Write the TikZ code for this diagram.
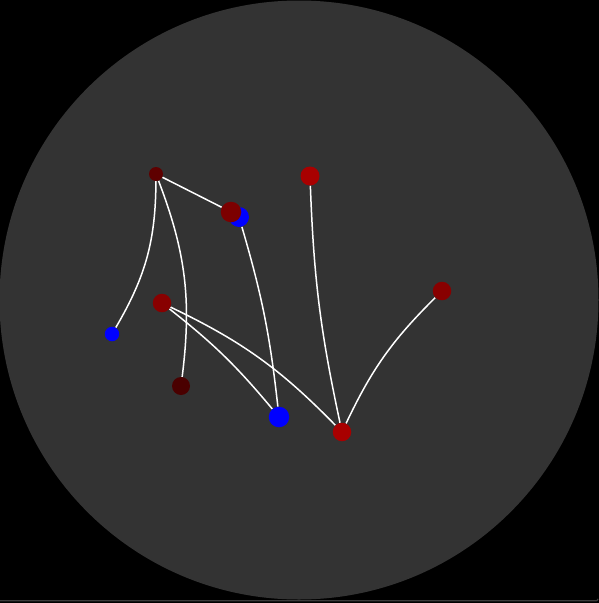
\documentclass[tikz,border=0pt]{standalone}
\usepackage{xcolor}
\usepackage{tikz}
\usetikzlibrary{backgrounds}

\definecolor{panel}{HTML}{333333}
\definecolor{rimline}{HTML}{3C3C3C}
\definecolor{redhi}{HTML}{A80000}
\definecolor{redmid}{HTML}{880000}
\definecolor{redlow}{HTML}{7C0000}
\definecolor{reddark}{HTML}{5E0000}
\definecolor{redblack}{HTML}{4A0000}
\definecolor{bluept}{HTML}{0000FF}

\begin{document}
\begin{tikzpicture}[
  x=1pt, y=-1pt,
  dot/.style={circle, draw=none, inner sep=0pt, minimum size=#1},
  dot/.default=18pt,
  link/.style={draw=white, line width=1.5pt}
]
  \useasboundingbox (0,0) rectangle (599,603);

  % Scheibe
  \begin{scope}[on background layer]
    \fill[black] (0,0) rectangle (599,603);
    \fill[panel] (299,300) circle[radius=299.5];
    \draw[rimline, line width=1.2pt] (0,600.8) -- (596,600.8) arc[start angle=90, end angle=0, radius=2];
  \end{scope}

  % Punkte
  \node[dot=14pt, fill=reddark]  (top)   at (156,174) {};
  \node[dot=20pt, fill=bluept]   (cblue) at (239,217) {};
  \node[dot=20.5pt, fill=redlow] (cred)  at (231,212) {};
  \node[dot=19pt, fill=redhi]    (peak)  at (310,176) {};
  \node[dot=18.5pt, fill=redmid] (east)  at (442,291) {};
  \node[dot=18.5pt, fill=redmid] (west)  at (162,303) {};
  \node[dot=14.5pt, fill=bluept] (lblue) at (112,334) {};
  \node[dot=18pt, fill=redblack] (low)   at (181,386) {};
  \node[dot=20.5pt, fill=bluept] (bblue) at (279,417) {};
  \node[dot=18.5pt, fill=redhi]  (hub)   at (342,432) {};

  % Verbindungen
  \begin{scope}[on background layer]
    \draw[link] (top) -- (cred);
    \draw[link] (top) to[bend left=15] (lblue);
    \draw[link] (top) to[bend left=14] (low);
    \draw[link] (cblue) to[bend left=5] (bblue);
    \draw[link] (peak) to[bend right=5] (hub);
    \draw[link] (east) to[bend right=10] (hub);
    \draw[link] (west) to[bend left=6] (bblue);
    \draw[link] (west) to[bend left=10] (hub);
  \end{scope}
\end{tikzpicture}
\end{document}
